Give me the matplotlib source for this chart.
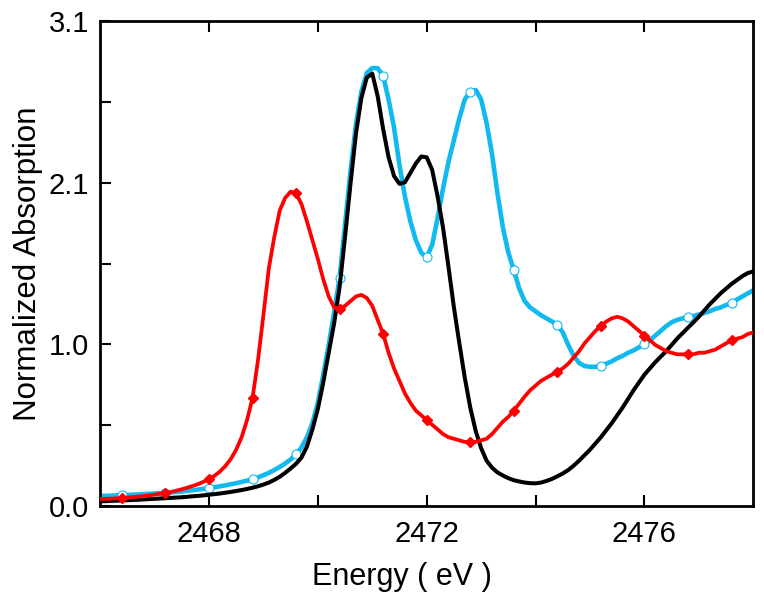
import numpy as np
import matplotlib
matplotlib.use("Agg")
import matplotlib.pyplot as plt

plt.rcParams['font.family'] = ['Liberation Sans', 'DejaVu Sans']

# energy grid, 0.1 eV steps (2466.0 ... 2478.0)
energy = np.round(np.arange(2466.0, 2478.001, 0.1), 1)

black = [0.030, 0.031, 0.033, 0.034, 0.036, 0.037, 0.039, 0.040, 0.042, 0.044,
         0.046, 0.048, 0.050, 0.052, 0.054, 0.056, 0.059, 0.062, 0.065, 0.068,
         0.072, 0.076, 0.080, 0.085, 0.090, 0.096, 0.102, 0.109, 0.117, 0.126,
         0.137, 0.150, 0.167, 0.187, 0.212, 0.240, 0.270, 0.310, 0.380, 0.490,
         0.620, 0.790, 0.980, 1.170, 1.400, 1.720, 2.060, 2.380, 2.610, 2.740,
         2.765, 2.620, 2.410, 2.230, 2.110, 2.060, 2.070, 2.130, 2.190, 2.235,
         2.230, 2.150, 1.980, 1.780, 1.530, 1.270, 1.040, 0.820, 0.630, 0.480,
         0.370, 0.290, 0.245, 0.215, 0.195, 0.178, 0.165, 0.157, 0.150, 0.146,
         0.145, 0.150, 0.160, 0.173, 0.190, 0.208, 0.230, 0.258, 0.290, 0.325,
         0.360, 0.400, 0.440, 0.485, 0.530, 0.580, 0.630, 0.685, 0.740, 0.790,
         0.840, 0.880, 0.920, 0.955, 0.990, 1.030, 1.070, 1.105, 1.140, 1.175,
         1.210, 1.250, 1.290, 1.325, 1.360, 1.390, 1.420, 1.445, 1.470, 1.490,
         1.500]

cyan = [0.064, 0.065, 0.066, 0.068, 0.069, 0.071, 0.072, 0.074, 0.076, 0.078,
        0.080, 0.082, 0.085, 0.087, 0.090, 0.093, 0.097, 0.101, 0.105, 0.110,
        0.115, 0.120, 0.126, 0.132, 0.139, 0.146, 0.154, 0.162, 0.171, 0.183,
        0.197, 0.212, 0.230, 0.250, 0.272, 0.298, 0.330, 0.375, 0.440, 0.530,
        0.660, 0.840, 1.030, 1.240, 1.460, 1.800, 2.140, 2.440, 2.650, 2.770,
        2.800, 2.800, 2.750, 2.600, 2.420, 2.180, 1.980, 1.820, 1.700, 1.620,
        1.590, 1.670, 1.840, 2.030, 2.200, 2.340, 2.480, 2.600, 2.650, 2.660,
        2.600, 2.450, 2.250, 2.000, 1.780, 1.620, 1.510, 1.390, 1.310, 1.270,
        1.245, 1.220, 1.200, 1.180, 1.160, 1.110, 1.030, 0.960, 0.915, 0.895,
        0.890, 0.890, 0.895, 0.910, 0.925, 0.945, 0.960, 0.980, 0.995, 1.015,
        1.035, 1.060, 1.090, 1.120, 1.150, 1.175, 1.190, 1.200, 1.210, 1.215,
        1.225, 1.235, 1.245, 1.260, 1.270, 1.285, 1.300, 1.320, 1.340, 1.360,
        1.380]

red = [0.045, 0.046, 0.047, 0.049, 0.052, 0.054, 0.057, 0.060, 0.064, 0.068,
       0.073, 0.078, 0.083, 0.090, 0.098, 0.107, 0.117, 0.128, 0.140, 0.155,
       0.172, 0.193, 0.220, 0.255, 0.300, 0.360, 0.440, 0.550, 0.690, 0.930,
       1.220, 1.520, 1.720, 1.890, 1.970, 2.010, 2.000, 1.930, 1.820, 1.700,
       1.580, 1.450, 1.340, 1.270, 1.260, 1.280, 1.310, 1.340, 1.350, 1.330,
       1.280, 1.190, 1.100, 0.980, 0.880, 0.800, 0.720, 0.660, 0.610, 0.580,
       0.550, 0.520, 0.490, 0.460, 0.440, 0.430, 0.420, 0.410, 0.410, 0.410,
       0.420, 0.430, 0.460, 0.500, 0.540, 0.570, 0.610, 0.655, 0.700, 0.740,
       0.770, 0.800, 0.820, 0.840, 0.860, 0.880, 0.910, 0.950, 0.990, 1.040,
       1.080, 1.120, 1.150, 1.180, 1.200, 1.210, 1.200, 1.180, 1.150, 1.120,
       1.090, 1.060, 1.030, 1.010, 0.990, 0.980, 0.970, 0.970, 0.970, 0.970,
       0.980, 0.980, 0.990, 1.000, 1.020, 1.040, 1.060, 1.070, 1.080, 1.100,
       1.110]

yticks = [0.0, 0.5167, 1.0333, 1.55, 2.0667, 2.5833, 3.1]
ylabels = ['0.0', '', '1.0', '', '2.1', '', '3.1']
xticks = [2468, 2470, 2472, 2474, 2476]
xlabels = ['2468', '', '2472', '', '2476']

fig = plt.figure(figsize=(7.64, 6.06), dpi=100)
ax = fig.add_axes([0.131, 0.165, 0.855, 0.800])

# markers every 0.8 eV starting at 2466.4
ax.plot(energy, cyan, color='#12b9ee', lw=3.3, marker='o', markevery=(4, 8),
        ms=6.5, mfc='white', mec='#12b9ee', mew=0.8, zorder=2)
ax.plot(energy, black, color='black', lw=2.9, zorder=3)
ax.plot(energy, red, color='#ff0000', lw=2.7, marker='D', markevery=(4, 8),
        ms=5.5, mfc='#ff0000', mec='#ff0000', zorder=4)

ax.set_xlim(2466, 2478)
ax.set_ylim(0, 3.1)
ax.set_xticks(xticks)
ax.set_xticklabels(xlabels)
ax.set_yticks(yticks)
ax.set_yticklabels(ylabels)
ax.tick_params(direction='in', length=8, width=1.5, labelsize=21,
               top=True, right=False)
ax.tick_params(axis='x', pad=10)
ax.tick_params(axis='y', pad=8)
for s in ax.spines.values():
    s.set_linewidth(2)

ax.set_xlabel('Energy ( eV )', fontsize=22, labelpad=10)
ax.xaxis.label.set_x(0.462)
ax.set_ylabel('Normalized Absorption', fontsize=22.5, labelpad=4)

plt.savefig('out.png', dpi=100)
